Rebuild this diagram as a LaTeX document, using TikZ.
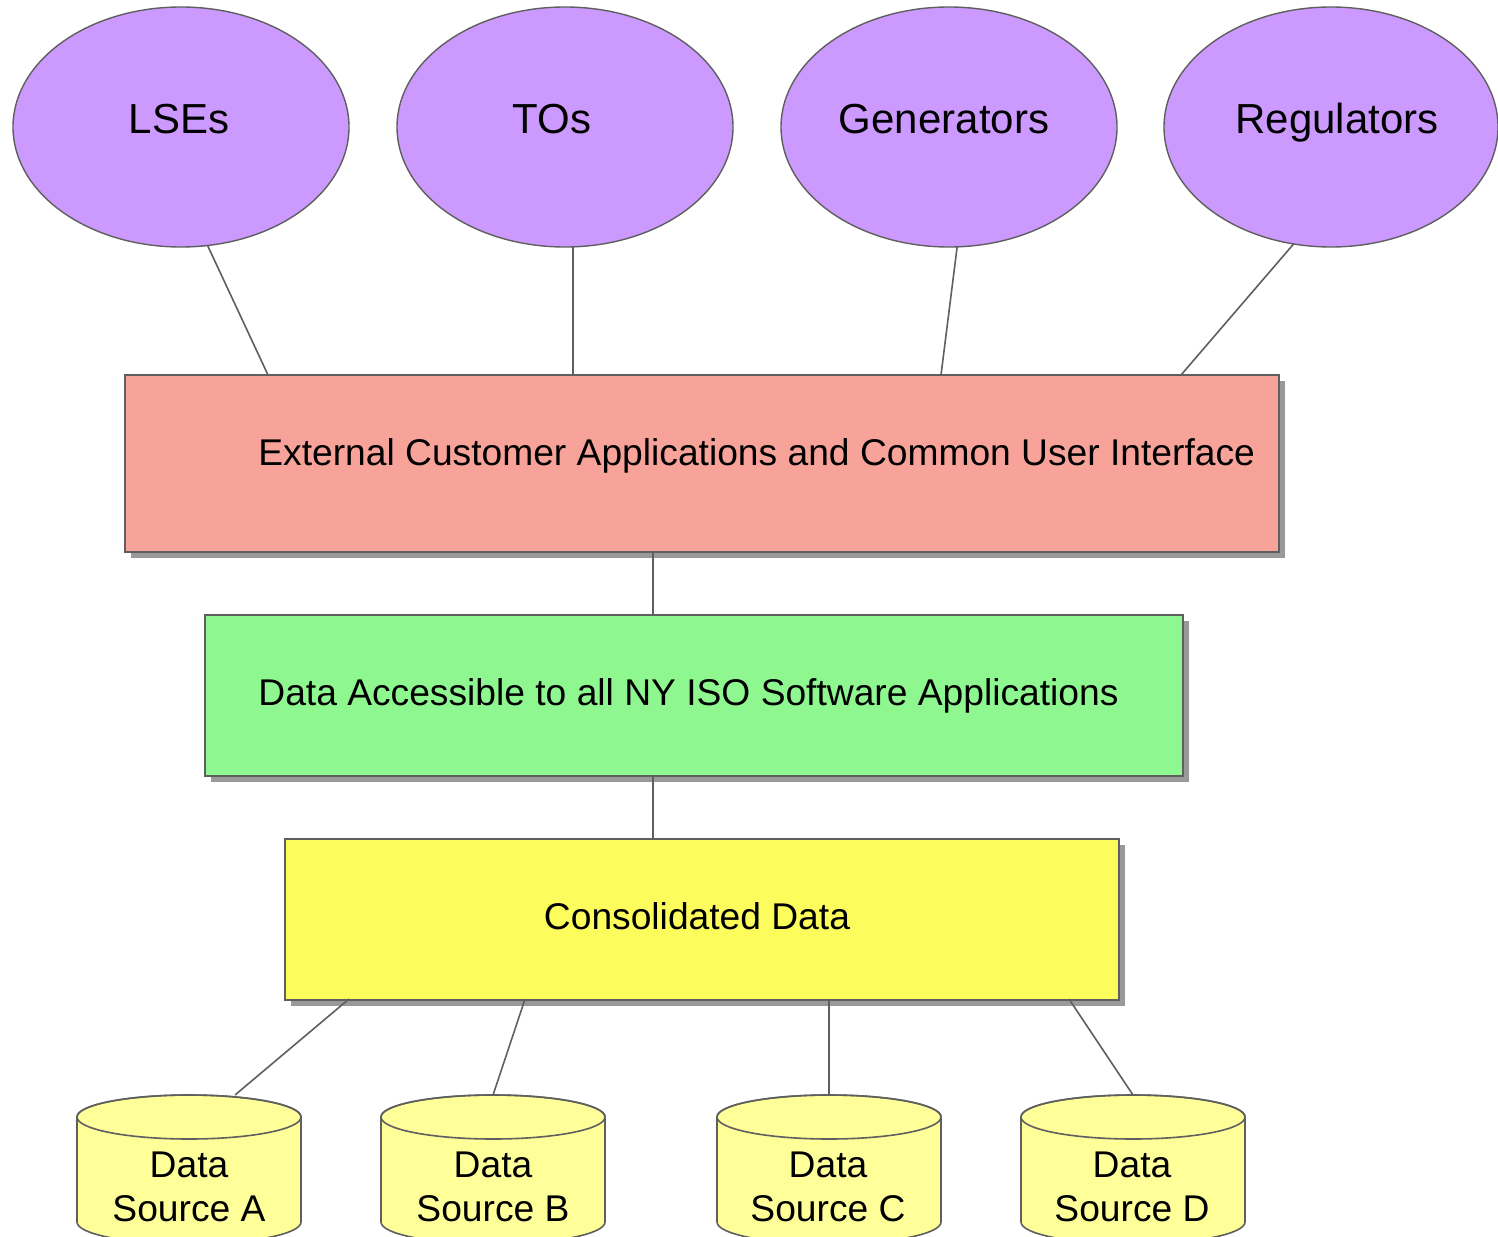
\documentclass[tikz,border=0pt]{standalone}
\usepackage{fontspec}
\setmainfont{Liberation Sans}
\usetikzlibrary{shapes.geometric,shadows}
\definecolor{ellfill}{HTML}{CC99FF}
\definecolor{pinkfill}{HTML}{F8A39A}
\definecolor{greenfill}{HTML}{8FF78F}
\definecolor{yellowfill}{HTML}{FCFC5C}
\definecolor{cylfill}{HTML}{FFFF99}
\definecolor{edge}{HTML}{5F5F5F}
\definecolor{shadowgray}{HTML}{999999}
\tikzset{
  ellnode/.style={ellipse, draw=edge, line width=0.7pt, fill=ellfill, inner sep=0pt,
    minimum width=168pt, minimum height=120pt},
  etxt/.style={inner sep=0pt, text height=0.716em, text depth=0pt, font=\fontsize{21}{25}\selectfont},
  boxnode/.style={rectangle, draw=edge, line width=0.7pt, inner sep=0pt,
    drop shadow={shadow xshift=3pt, shadow yshift=-3pt, opacity=1, fill=shadowgray}},
  btxt/.style={inner sep=0pt, text height=0.716em, text depth=0pt, font=\fontsize{18.6}{22}\selectfont},
  ctxt/.style={inner sep=0pt, align=center, font=\fontsize{18.6}{22}\selectfont},
  conn/.style={draw=edge, line width=0.8pt},
  cylshape/.style={draw=edge, line width=0.8pt, fill=cylfill}
}
\begin{document}
\begin{tikzpicture}[x=0.5pt,y=0.5pt]
\useasboundingbox[fill=white] (0,0) rectangle (1498,-1236);

% connector end points
\coordinate (e1) at (205,-240);
\coordinate (p1) at (268,-375);
\coordinate (e2) at (573,-240);
\coordinate (p2) at (573,-375);
\coordinate (e3) at (958,-240);
\coordinate (p3) at (941,-375);
\coordinate (e4) at (1297,-240);
\coordinate (p4) at (1181,-375);
\coordinate (y1) at (349,-999);
\coordinate (c1) at (235,-1095);
\coordinate (y2) at (525,-999);
\coordinate (c2) at (493,-1095);
\coordinate (y3) at (829,-999);
\coordinate (c3) at (829,-1095);
\coordinate (y4) at (1069,-999);
\coordinate (c4) at (1133,-1095);

% upper connectors (behind shapes)
\draw[conn] (e1) -- (p1);
\draw[conn] (e2) -- (p2);
\draw[conn] (e3) -- (p3);
\draw[conn] (e4) -- (p4);

% ellipses
\node[ellnode] (lse) at (181,-127) {};
\node[ellnode] (tos) at (565,-127) {};
\node[ellnode] (gen) at (949,-127) {};
\node[ellnode, minimum width=167pt] (reg) at (1331,-127) {};
\node[etxt] (lset) at (179,-126) {LSEs};
\node[etxt] (tost) at (552,-126) {TOs};
\node[etxt] (gent) at (944,-126) {Generators};
\node[etxt] (regt) at (1337,-126) {Regulators};

% boxes
\node[boxnode, fill=pinkfill, minimum width=577pt, minimum height=88.5pt] (ext) at (702,-463.5) {};
\node[boxnode, fill=greenfill, minimum width=489pt, minimum height=80.5pt] (acc) at (694,-695.5) {};
\node[boxnode, fill=yellowfill, minimum width=417pt, minimum height=80.5pt] (cons) at (702,-919.5) {};
\draw[conn] (ext.south -| 653,0) -- (acc.north -| 653,0);
\draw[conn] (acc.south -| 653,0) -- (cons.north -| 653,0);
\node[btxt, anchor=west] (extt) at (258,-458) {External Customer Applications and Common User Interface};
\node[btxt, anchor=west] (acct) at (258,-698) {Data Accessible to all NY ISO Software Applications};
\node[btxt] (const) at (697,-922) {Consolidated Data};

% lower connectors (over the shadow)
\draw[conn] (y1) -- (c1);
\draw[conn] (y2) -- (c2);
\draw[conn] (y3) -- (c3);
\draw[conn] (y4) -- (c4);

% cylinders
\foreach \cx/\nm in {189/A, 493/B, 829/C, 1133/D}{
  \path[cylshape] (\cx-112,-1117) -- (\cx-112,-1222) arc[start angle=180, end angle=360, x radius=56pt, y radius=11pt]
     -- (\cx+112,-1117) arc[start angle=0, end angle=180, x radius=56pt, y radius=11pt] -- cycle;
  \draw[draw=edge, line width=0.8pt] (\cx,-1117) ellipse[x radius=56pt, y radius=11pt];
}
\node[ctxt] (dsA) at (189,-1187) {Data\\Source A};
\node[ctxt] (dsB) at (493,-1187) {Data\\Source B};
\node[ctxt] (dsC) at (828,-1187) {Data\\Source C};
\node[ctxt] (dsD) at (1132,-1187) {Data\\Source D};
\end{tikzpicture}
\end{document}
